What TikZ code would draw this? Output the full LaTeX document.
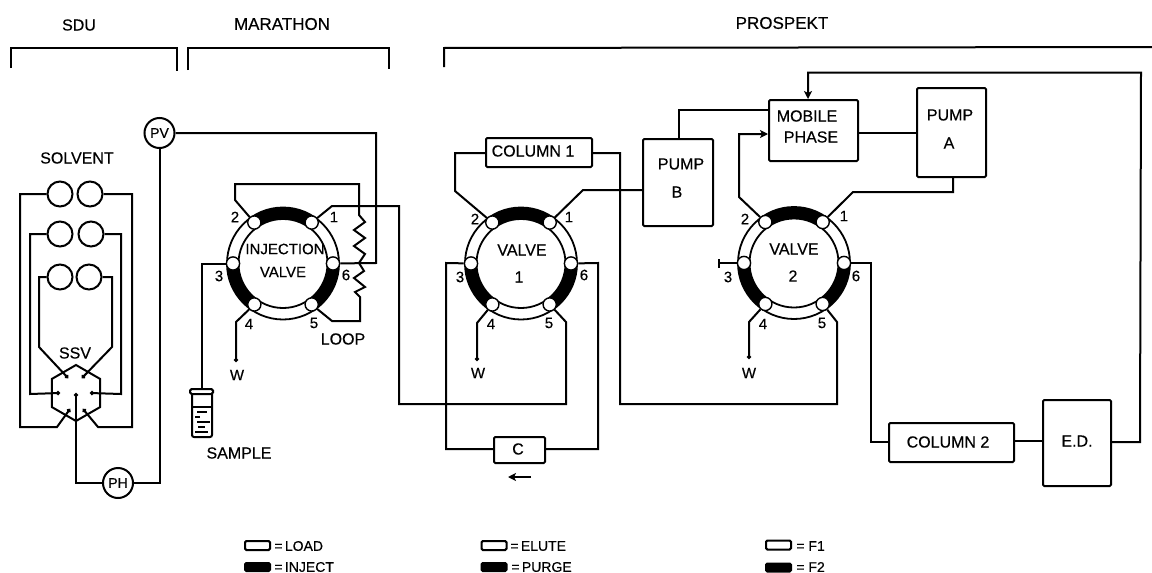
\documentclass[tikz,border=0pt]{standalone}
\usepackage{fontspec}
\setmainfont[FakeBold=0.4]{Liberation Sans}
\usetikzlibrary{arrows.meta,shapes.geometric}
\tikzset{
  wire/.style={line width=1pt,line join=miter},
  dotend/.style={wire,-{Circle[length=2pt,width=2pt]}},
  tipend/.style={wire,-{Stealth[length=4pt,width=4pt,inset=1pt]}},
  boxn/.style={draw,line width=1pt,inner sep=0pt,rounded corners=0.6pt},
  solv/.style={circle,draw,line width=1pt,inner sep=0pt,minimum size=12.5pt},
  gauge/.style={circle,draw,line width=1pt,inner sep=0pt,minimum size=15pt},
  port/.style={circle,draw,fill=white,line width=0.7pt,inner sep=0pt,minimum size=6.6pt},
  lbl/.style={inner sep=0pt,font=\fontsize{8}{9}\selectfont},
  big/.style={inner sep=0pt,font=\fontsize{8.5}{9}\selectfont},
  inj/.style={inner sep=0pt,font=\fontsize{7.5}{9}\selectfont},
  num/.style={inner sep=0pt,font=\fontsize{7.5}{8}\selectfont},
  leg/.style={inner sep=0pt,anchor=west,font=\fontsize{7}{8}\selectfont},
  legw/.style={draw,line width=1pt,fill=white,inner sep=0pt,rounded corners=0.7pt,minimum width=12.5pt,minimum height=4.5pt},
  legb/.style={draw,line width=1pt,fill=black,inner sep=0pt,rounded corners=0.7pt,minimum width=12.5pt,minimum height=4pt},
}
\newcommand{\sixport}[3]{%
  \begin{scope}[shift={(#2,#3)},x=0.5pt,y=0.5pt]
    \draw[line width=0.9pt] (0,0) circle[radius=56];
    \draw[line width=0.9pt] (0,0) circle[radius=44.5];
    \fill (55:56) arc[start angle=55,end angle=125,radius=56] -- (125:44.5) arc[start angle=125,end angle=55,radius=44.5] -- cycle;
    \fill (180:56) arc[start angle=180,end angle=235,radius=56] -- (235:44.5) arc[start angle=235,end angle=180,radius=44.5] -- cycle;
    \fill (305:56) arc[start angle=305,end angle=360,radius=56] -- (0:44.5) arc[start angle=360,end angle=305,radius=44.5] -- cycle;
    \node[port] (#11) at (55:50) {};
    \node[port] (#12) at (125:50) {};
    \node[port] (#13) at (180:50) {};
    \node[port] (#14) at (235:50) {};
    \node[port] (#15) at (305:50) {};
    \node[port] (#16) at (0:50) {};
  \end{scope}}
\begin{document}
\begin{tikzpicture}[x=0.5pt,y=-0.5pt]
\useasboundingbox (0,0) rectangle (1152,573);
% section headings and brackets
\node[lbl] (tsdu) at (79,25) {SDU};
\node[big] (tmar) at (282,24) {MARATHON};
\node[big] (tpro) at (782,23) {PROSPEKT};
\draw[wire] (11,68) -- (11,48) -- (177,48) -- (177,71);
\draw[wire] (188,70) -- (188,48) -- (389,48) -- (389,69);
\draw[wire] (444,67) -- (444,48) -- (1152,47);
% gauges
\node[gauge] (pv) at (159.5,133) {};
\node[lbl,font=\fontsize{7}{8}\selectfont] (tpv) at (pv) {PV};
\node[gauge] (ph) at (118,483) {};
\node[lbl,font=\fontsize{7}{8}\selectfont] (tph) at (ph) {PH};
% solvent bottles
\node[lbl] (tsolv) at (77,158) {SOLVENT};
\node[solv] (s1l) at (60,194) {};
\node[solv] (s1r) at (90,194) {};
\node[solv] (s2l) at (60,234) {};
\node[solv] (s2r) at (91,234) {};
\node[solv] (s3l) at (60,277) {};
\node[solv] (s3r) at (89,277) {};
% switching valve
\node[regular polygon,regular polygon sides=6,regular polygon rotate=30,draw,line width=1pt,inner sep=0pt,minimum size=28pt] (ssv) at (76,393) {};
\node[lbl] (tssv) at (75,353) {SSV};
\coordinate (d1) at (70,409);
\coordinate (d2) at (83,409);
\coordinate (d3) at (60,393);
\coordinate (d4) at (90,393);
\coordinate (d5) at (68,378);
\coordinate (d6) at (82,378);
\draw[dotend] (s1l) -- (20,194) -- (20,427) -- (57,427) -- (d1);
\draw[dotend] (s1r) -- (132,194) -- (132,427) -- (98,427) -- (d2);
\draw[dotend] (s2l) -- (30,234) -- (30,394) -- (d3);
\draw[dotend] (s2r) -- (121,234) -- (121,394) -- (d4);
\draw[dotend] (s3l) -- (39,277) -- (39,347) -- (d5);
\draw[dotend] (s3r) -- (112,277) -- (112,347) -- (d6);
\draw[wire,{Circle[length=2pt,width=2pt]}-] (ssv.center) -- (76,483) -- (ph);
\draw[wire] (ph) -- (159.5,483) -- (pv);
% injection valve
\sixport{iv}{283}{263.5}
\node[inj] (tiv1) at (285,249) {INJECTION};
\node[inj] (tiv2) at (283,272) {VALVE};
\node[num] (ivn1) at (334,217) {1};
\node[num] (ivn2) at (235,217) {2};
\node[num] (ivn3) at (219,276) {3};
\node[num] (ivn4) at (249,324) {4};
\node[num] (ivn5) at (314,323) {5};
\node[num] (ivn6) at (346,275) {6};
\draw[wire] (iv2) -- (235,200) -- (235,184) -- (359,184) -- (359,215)
  -- (365,222) -- (354,230) -- (365,238) -- (354,246) -- (365,254) -- (359,263)
  -- (364,271) -- (354,278) -- (365,287) -- (355,292) -- (360,297)
  -- (360,321) -- (332,321) -- (iv5);
\draw[wire] (iv6) -- (376,263) -- (376,133) -- (pv);
\node[lbl] (tloop) at (343,339) {LOOP};
\coordinate (ivw) at (236,362);
\draw[dotend] (iv4) -- (236,322) -- (ivw);
\node[num] (tw0) at (237,375) {W};
% sample vial
\node[draw,line width=1pt,fill=white,inner sep=0pt,rounded corners=0.8pt,minimum width=11.5pt,minimum height=2.5pt] (vial) at (201.5,391.5) {};
\draw[wire] (iv3) -| (vial);
\draw[wire,rounded corners=1pt] (192,394) -- (192,437) -- (212,437) -- (212,394);
\draw[line width=1.1pt] (192,407) -- (212,407);
\draw[line width=0.8pt] (197,412) -- (207,412) (195,417) -- (200,417) (197,422) -- (210,422) (198,427) -- (205,427) (195,432) -- (208,432);
\node[lbl] (tsam) at (239,453) {SAMPLE};
% valve 1
\sixport{va}{521}{263.5}
\node[lbl] (tva1) at (522,250) {VALVE};
\node[lbl] (tva2) at (519,277) {1};
\node[num] (van1) at (569,217) {1};
\node[num] (van2) at (475,219) {2};
\node[num] (van3) at (460,277) {3};
\node[num] (van4) at (491,324) {4};
\node[num] (van5) at (549,323) {5};
\node[num] (van6) at (584,275) {6};
\node[boxn,minimum width=53pt,minimum height=14.5pt] (col1) at (539,152.5) {};
\node[lbl] (tcol1) at (533,151) {COLUMN 1};
\node[boxn,minimum width=35pt,minimum height=43.5pt] (pumpb) at (678,182.5) {};
\node[lbl] (tpb1) at (681,164) {PUMP};
\node[lbl] (tpb2) at (677,192) {B};
\node[boxn,minimum width=25.5pt,minimum height=13pt] (cc) at (519.5,450) {};
\node[lbl] (tc) at (518,449) {C};
\coordinate (caa) at (531,477);
\coordinate (cab) at (508,477);
\draw[tipend] (caa) -- (cab);
\draw[wire] (col1.west |- 0,153) -- (455,153) -- (455,191) -- (va2);
\draw[wire] (iv1) -- (332,206) -- (399,206) -- (399,404) -- (566,404) -- (566,322) -- (va5);
\draw[wire] (va1) -- (583,190) -- (pumpb.west |- 0,190);
\draw[wire] (va3) -- (446,263) -- (446,449) -- (cc.west |- 0,449);
\draw[wire] (va6) -- (598,263) -- (598,449) -- (cc.east |- 0,449);
\coordinate (vaw) at (477,361);
\draw[dotend] (va4) -- (477,323) -- (vaw);
\node[num] (tw1) at (478,373) {W};
% mobile phase and pumps
\node[boxn,minimum width=44.5pt,minimum height=30.5pt] (mob) at (813.5,130.5) {};
\node[lbl] (tmob1) at (807,116) {MOBILE};
\node[lbl] (tmob2) at (811,137) {PHASE};
\node[boxn,minimum width=34.5pt,minimum height=44.5pt] (pumpa) at (951.5,132.5) {};
\node[lbl] (tpa1) at (950,115) {PUMP};
\node[lbl] (tpa2) at (949,143) {A};
\draw[wire] (pumpb.north -| 679,0) -- (679,110) -- (mob.west |- 0,110);
\draw[wire] (mob.east |- 0,133) -- (pumpa.west |- 0,133);
% valve 2
\sixport{vb}{794}{263}
\node[lbl] (tvb1) at (794,249) {VALVE};
\node[lbl] (tvb2) at (793,276) {2};
\node[num] (vbn1) at (844,216) {1};
\node[num] (vbn2) at (745,219) {2};
\node[num] (vbn3) at (728,277) {3};
\node[num] (vbn4) at (763,324) {4};
\node[num] (vbn5) at (822,323) {5};
\node[num] (vbn6) at (856,276) {6};
\draw[wire] (col1.east |- 0,153) -- (620,153) -- (620,404) -- (837,404) -- (837,322) -- (vb5);
\draw[tipend] (vb2) -- (739,197) -- (739,134) -- (mob.west |- 0,134);
\draw[wire] (pumpa.south -| 953,0) -- (953,192) -- (853,192) -- (vb1);
\coordinate (vbs) at (718,263);
\draw[wire,-{Bar[width=4.5pt,length=0.6pt]}] (vb3) -- (vbs);
\coordinate (vbw) at (749,359);
\draw[dotend] (vb4) -- (749,322) -- (vbw);
\node[num] (tw2) at (749,373) {W};
% column 2 and detector
\node[boxn,minimum width=62.5pt,minimum height=19.5pt] (col2) at (951.5,442.5) {};
\node[lbl] (tcol2) at (948,442) {COLUMN 2};
\node[boxn,minimum width=34pt,minimum height=43pt] (ed) at (1077,443) {};
\node[lbl] (ted) at (1077,441) {E.D.};
\draw[wire] (vb6) -- (871,263) -- (871,442) -- (col2.west |- 0,442);
\draw[wire] (col2.east |- 0,441) -- (ed.west |- 0,441);
\draw[tipend] (ed.east |- 0,442) -- (1140,442) -- (1141,72.5) -- (808,72.5) -- (mob.north -| 808,0);
% legend
\node[legw] (l1w) at (257.5,545.5) {};
\node[legb] (l1b) at (257.5,567) {};
\node[leg] (l1a) at (274,546) {=\,LOAD};
\node[leg] (l1c) at (274,567) {=\,INJECT};
\node[legw] (l2w) at (494,545.5) {};
\node[legb] (l2b) at (494,567) {};
\node[leg] (l2a) at (510,546) {=\,ELUTE};
\node[leg] (l2c) at (511,567) {=\,PURGE};
\node[legw] (l3w) at (778.5,545) {};
\node[legb] (l3b) at (778.5,567.5) {};
\node[leg] (l3a) at (796,546) {=\ F1};
\node[leg] (l3c) at (796,567) {=\ F2};
\end{tikzpicture}
\end{document}
